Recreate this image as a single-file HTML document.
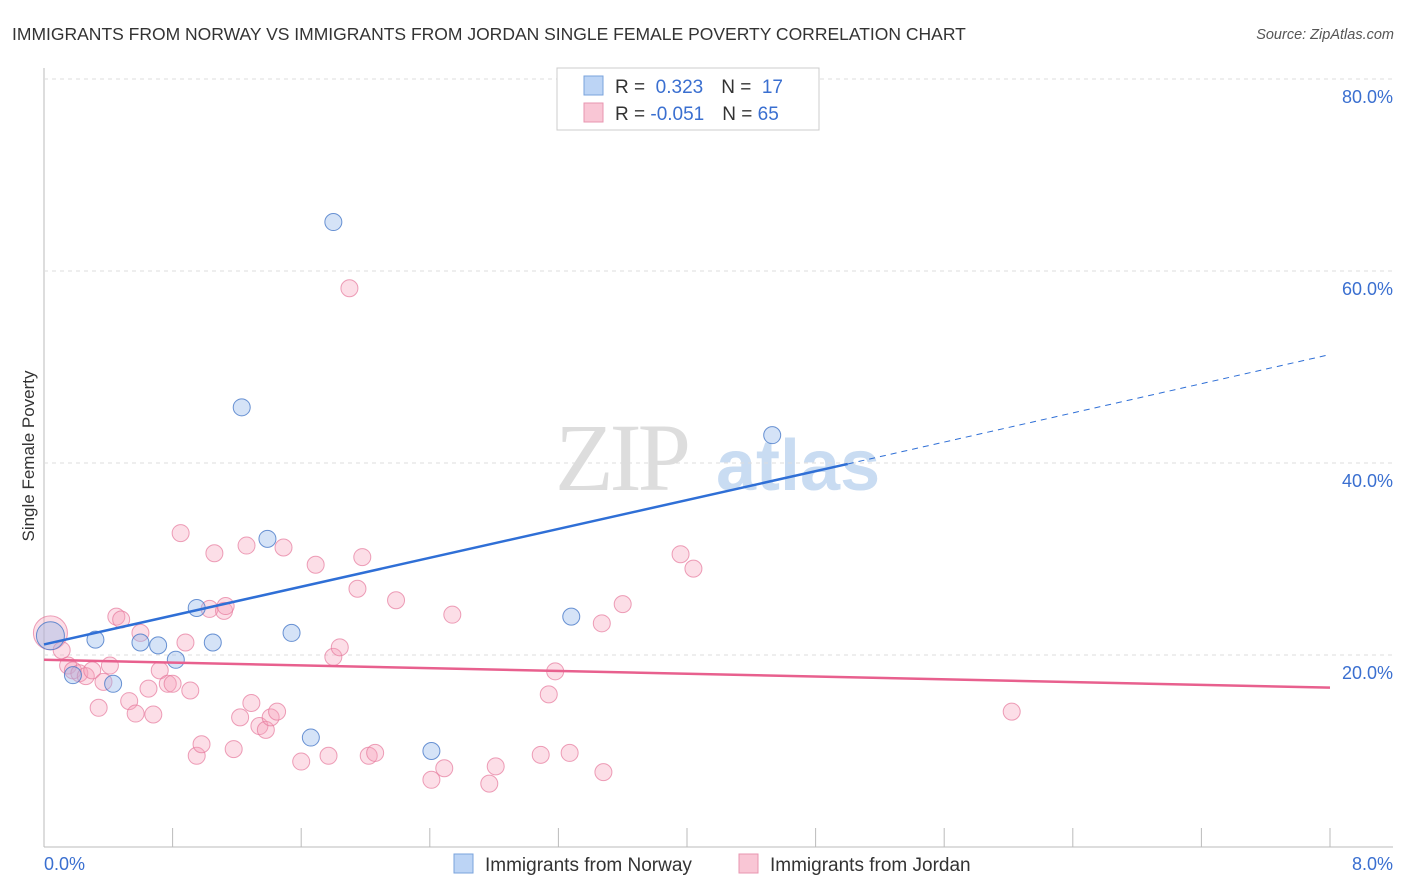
<!DOCTYPE html>
<html><head><meta charset="utf-8"><style>
body{margin:0;background:#fff;font-family:"Liberation Sans",sans-serif}
svg{display:block}
</style></head><body>
<svg id="chart" width="1406" height="892">
<text x="12" y="40" font-size="17.5" fill="#333">IMMIGRANTS FROM NORWAY VS IMMIGRANTS FROM JORDAN SINGLE FEMALE POVERTY CORRELATION CHART</text>
<text x="1394" y="39" font-size="14.5" fill="#555" font-style="italic" text-anchor="end">Source: ZipAtlas.com</text>
<text x="0" y="0" transform="translate(34,456) rotate(-90)" font-size="17" fill="#333" text-anchor="middle">Single Female Poverty</text>
<g><text x="555" y="490" font-size="96" fill="#ddd" font-family="Liberation Serif" letter-spacing="-4">ZIP</text><text x="716" y="490" font-size="72" fill="#c9dcf2" font-weight="bold">atlas</text></g>
<g id="grid"></g><g id="marks"></g>
<g>
<rect x="557" y="68" width="262" height="62" fill="#fff" stroke="#ccc"/>
<rect x="584" y="76" width="19" height="19" fill="#bcd4f5" stroke="#7aa3dc"/>
<rect x="584" y="103" width="19" height="19" fill="#f9c6d5" stroke="#e896b0"/>
<text x="615" y="93" font-size="19" fill="#333">R = <tspan fill="#3a6fd0">&#160;0.323</tspan><tspan dx="18">N = </tspan><tspan fill="#3a6fd0">&#160;17</tspan></text>
<text x="615" y="120" font-size="19" fill="#333">R = <tspan fill="#3a6fd0">-0.051</tspan><tspan dx="18">N = </tspan><tspan fill="#3a6fd0">65</tspan></text>
</g>
<g>
<rect x="454" y="854" width="19" height="19" fill="#bcd4f5" stroke="#7aa3dc"/>
<text x="485" y="871" font-size="19" fill="#333">Immigrants from Norway</text>
<rect x="739" y="854" width="19" height="19" fill="#f9c6d5" stroke="#e896b0"/>
<text x="770" y="871" font-size="19" fill="#333">Immigrants from Jordan</text>
</g>
</svg>
<script>
const yTicks=[20,40,60,80];
const yTickLabels=["20.0%","40.0%","60.0%","80.0%"];
const xTickLabels=["0.0%","8.0%"];
const norwayX=[0.04,0.32,0.43,0.18,0.6,0.71,0.82,0.95,1.05,1.23,1.39,1.54,1.66,1.8,2.41,3.28,4.53];
const norwayY=[22.0,21.6,17.0,17.9,21.3,21.0,19.5,24.9,21.3,45.8,32.1,22.3,11.4,65.1,10.0,24.0,42.9];
const jordanX=[0.04,0.11,0.15,0.18,0.22,0.26,0.3,0.34,0.37,0.41,0.45,0.48,0.53,0.57,0.6,0.65,0.68,0.72,0.77,0.8,0.85,0.88,0.91,0.95,0.98,1.03,1.06,1.12,1.13,1.18,1.22,1.26,1.29,1.34,1.38,1.41,1.45,1.49,1.6,1.69,1.77,1.8,1.84,1.9,1.95,1.98,2.02,2.06,2.19,2.41,2.49,2.54,2.77,2.81,3.09,3.14,3.18,3.27,3.47,3.48,3.6,3.96,4.04,6.02];
const jordanY=[22.3,20.5,18.9,18.4,18.1,17.8,18.4,14.5,17.2,18.9,24.0,23.7,15.2,13.9,22.3,16.5,13.8,18.4,17.0,17.0,32.7,21.3,16.3,9.5,10.7,24.8,30.6,24.6,25.1,10.2,13.5,31.4,15.0,12.6,12.2,13.5,14.1,31.2,8.9,29.4,9.5,19.8,20.8,58.2,26.9,30.2,9.5,9.8,25.7,7.0,8.2,24.2,6.6,8.4,9.6,15.9,18.3,9.8,23.3,7.8,25.3,30.5,29.0,14.1];
const NS="http://www.w3.org/2000/svg";
const X0=44,X1=1330,Y0=847,Y1=79;
const xs=v=>X0+v/8*(X1-X0), ys=v=>Y0-v/80*(Y0-Y1);
function mk(t,a,p){const e=document.createElementNS(NS,t);for(const k in a)e.setAttribute(k,a[k]);p.appendChild(e);return e;}
const g=document.getElementById('grid'),m=document.getElementById('marks');
let ax=mk('line',{x1:X0,y1:68,x2:X0,y2:Y0,stroke:'#bbb'},g);


let bx=mk('line',{x1:X0,y1:Y0,x2:1393,y2:Y0,stroke:'#bbb'},g);


yTicks.forEach((t,i)=>{
 let l=mk('line',{x1:X0,y1:ys(t),x2:1393,y2:ys(t),stroke:'#ddd','stroke-dasharray':'4,4'},g);
 
 
 let tx=mk('text',{x:1393,y:ys(t)+24,'font-size':18,fill:'#3a6fd0','text-anchor':'end'},g);tx.textContent=yTickLabels[i];
 
 
});
for(let i=0;i<=10;i++){let l=mk('line',{x1:xs(i*0.8),y1:828,x2:xs(i*0.8),y2:Y0,stroke:'#bbb'},g);
 
 }
[[0,xTickLabels[0],'start',44],[8,xTickLabels[1],'end',1393]].forEach(d=>{let t=mk('text',{x:d[3],y:870,'font-size':18,fill:'#3a6fd0','text-anchor':d[2]},g);t.textContent=d[1];
 
 });
jordanX.forEach((x,i)=>{let c=mk('circle',{cx:xs(x),cy:ys(jordanY[i]),r:i==0?17:8.5,fill:'rgba(245,160,185,0.35)',stroke:'rgba(230,120,155,0.7)','stroke-width':1},m);
 
 });
norwayX.forEach((x,i)=>{let c=mk('circle',{cx:xs(x),cy:ys(norwayY[i]),r:i==0?14:8.5,fill:'rgba(150,185,235,0.4)',stroke:'rgba(70,120,200,0.8)','stroke-width':1},m);
 
 });
let t1=mk('line',{x1:xs(0),y1:ys(21.1),x2:xs(5),y2:ys(39.9),stroke:'#2f6fd6','stroke-width':2.5},m);


let t2=mk('line',{x1:xs(5),y1:ys(39.9),x2:xs(8),y2:ys(51.3),stroke:'#2f6fd6','stroke-width':1,'stroke-dasharray':'6,5'},m);


let t3=mk('line',{x1:xs(0),y1:ys(19.5),x2:xs(8),y2:ys(16.6),stroke:'#e8608e','stroke-width':2.5},m);


</script>
</body></html>
